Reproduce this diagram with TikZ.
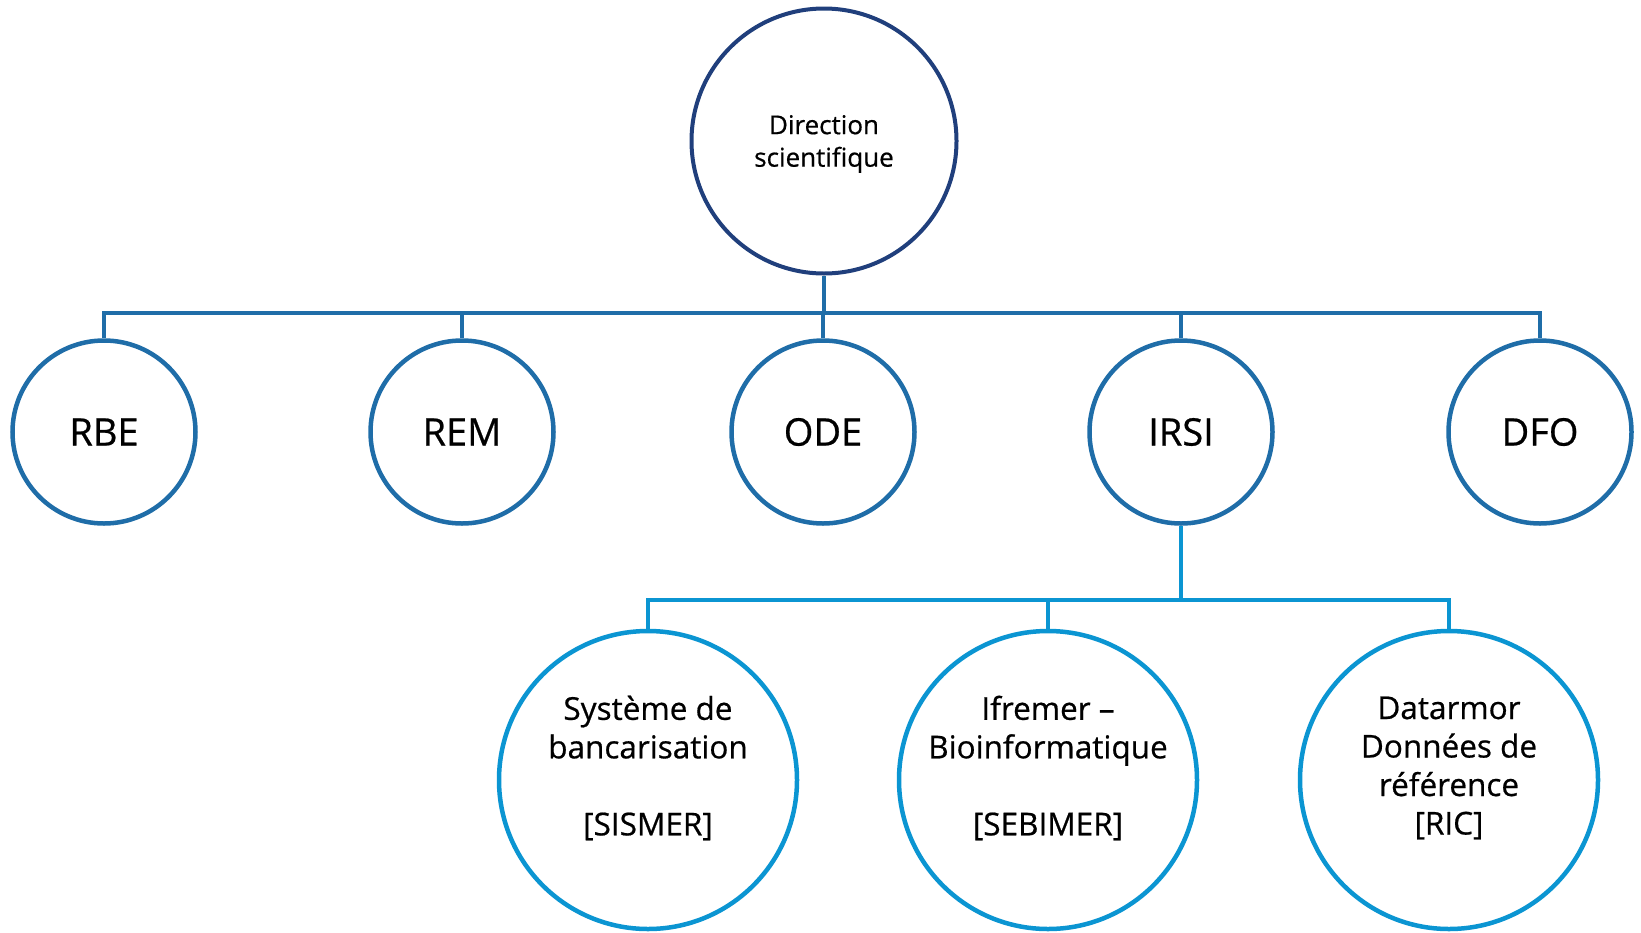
\documentclass[tikz,border=0pt]{standalone}
\usepackage{fontspec}
\setmainfont[FakeBold=0.6,BoldFont={Open Sans},BoldFeatures={FakeBold=0.6}]{Open Sans}
\definecolor{topblue}{HTML}{203F7C}
\definecolor{midblue}{HTML}{1F6DA8}
\definecolor{lowblue}{HTML}{0B95D2}
\begin{document}
\begin{tikzpicture}[x=1pt,y=-1pt,
  topc/.style={circle,draw=topblue,line width=4pt,minimum size=265pt,inner sep=0pt,fill=white},
  topt/.style={align=center,font=\fontsize{26}{32.5}\selectfont,inner sep=0pt},
  midc/.style={circle,draw=midblue,line width=4.5pt,minimum size=183pt,inner sep=0pt,fill=white,
    font=\fontsize{38}{44}\selectfont},
  lowc/.style={circle,draw=lowblue,line width=4.5pt,minimum size=298pt,inner sep=0pt,fill=white},
  lowt/.style={align=center,font=\fontsize{31.5}{38.5}\selectfont,inner sep=0pt},
  midline/.style={draw=midblue,line width=4.5pt,line join=miter},
  lowline/.style={draw=lowblue,line width=4.5pt,line join=miter}]
\useasboundingbox (0,0) rectangle (1641,932);
\coordinate (bus) at (0,313);
\coordinate (lbus) at (0,600);
\node[topc] (ds) at (824,141) {};
\node[midc] (rbe) at (104,432) {RBE};
\node[midc] (rem) at (462,432) {REM};
\node[midc] (ode) at (823,432) {ODE};
\node[midc] (irsi) at (1181,432) {IRSI};
\node[midc] (dfo) at (1540,432) {DFO};
\node[lowc] (sis) at (648,780) {};
\node[lowc] (seb) at (1048,780) {};
\node[lowc] (ric) at (1449,780) {};
\path[midline] (rbe.north) -- (rbe.north |- bus) -- (dfo.north |- bus) -- (dfo.north);
\path[midline] (ds.south) -- (ds.south |- bus);
\path[midline] (rem.north) -- (rem.north |- bus);
\path[midline] (ode.north) -- (ode.north |- bus);
\path[midline] (irsi.north) -- (irsi.north |- bus);
\path[lowline] (irsi.south) -- (irsi.south |- lbus);
\path[lowline] (sis.north) -- (sis.north |- lbus) -- (ric.north |- lbus) -- (ric.north);
\path[lowline] (seb.north) -- (seb.north |- lbus);
\node[topt] (dst) at (824,144) {Direction\\scientifique};
\node[lowt] (sist) at (648,768) {Système de\\bancarisation\\ \strut\\{}[SISMER]};
\node[lowt] (sebt) at (1048,768) {Ifremer –\\Bioinformatique\\ \strut\\{}[SEBIMER]};
\node[lowt] (rict) at (1449,768) {Datarmor\\Données de\\référence\\{}[RIC]};
\end{tikzpicture}
\end{document}
